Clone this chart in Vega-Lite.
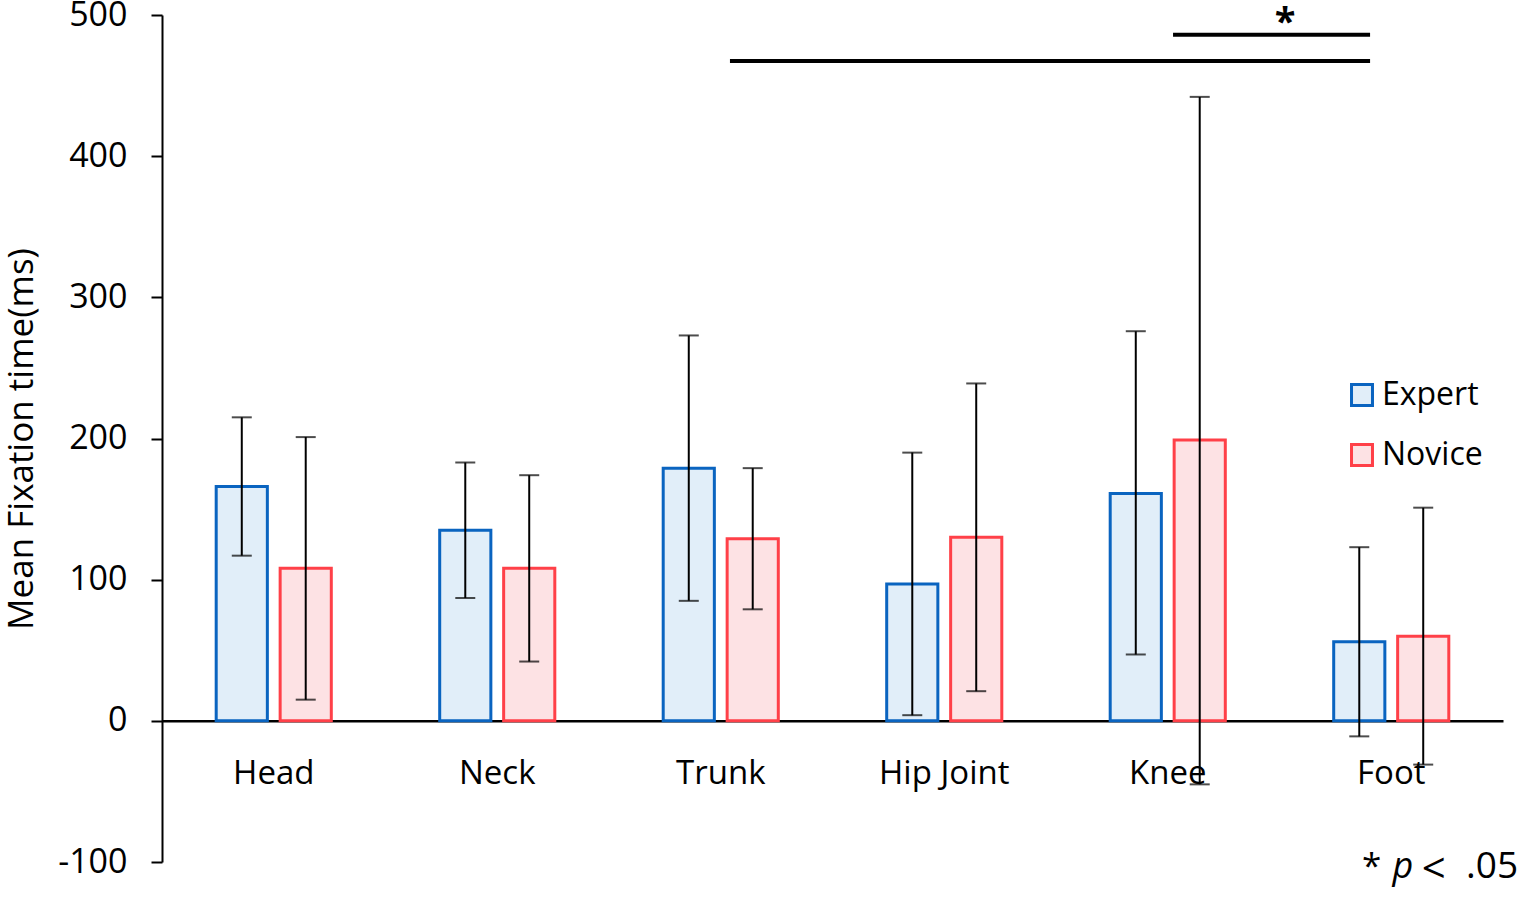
{
  "$schema": "https://vega.github.io/schema/vega-lite/v6.json",
  "width": 1341,
  "height": 847,
  "autosize": {"type": "none"},
  "padding": {"left": 162, "top": 15, "right": 22, "bottom": 38},
  "background": "white",
  "config": {
    "font": "Open Sans",
    "view": {"stroke": null},
    "axis": {"grid": false}
  },
  "datasets": {
    "bars": [
      {"region": "Head", "group": "Expert", "mean": 166, "lo": 117, "hi": 215},
      {"region": "Head", "group": "Novice", "mean": 108, "lo": 15, "hi": 201},
      {"region": "Neck", "group": "Expert", "mean": 135, "lo": 87, "hi": 183},
      {"region": "Neck", "group": "Novice", "mean": 108, "lo": 42, "hi": 174},
      {"region": "Trunk", "group": "Expert", "mean": 179, "lo": 85, "hi": 273},
      {"region": "Trunk", "group": "Novice", "mean": 129, "lo": 79, "hi": 179},
      {"region": "Hip Joint", "group": "Expert", "mean": 97, "lo": 4, "hi": 190},
      {"region": "Hip Joint", "group": "Novice", "mean": 130, "lo": 21, "hi": 239},
      {"region": "Knee", "group": "Expert", "mean": 161, "lo": 47, "hi": 276},
      {"region": "Knee", "group": "Novice", "mean": 199, "lo": -45, "hi": 442},
      {"region": "Foot", "group": "Expert", "mean": 56, "lo": -11, "hi": 123},
      {"region": "Foot", "group": "Novice", "mean": 60, "lo": -31, "hi": 151}
    ]
  },
  "layer": [
    {
      "data": {"name": "bars"},
      "mark": {"type": "bar", "strokeWidth": 3},
      "encoding": {
        "x": {
          "field": "region", "type": "nominal", "sort": null,
          "scale": {"domain": ["Head", "Neck", "Trunk", "Hip Joint", "Knee", "Foot"], "paddingInner": 0.485, "paddingOuter": 0.2425},
          "axis": {
            "title": null, "orient": "bottom", "offset": -141.2, "labelAngle": 0,
            "ticks": false, "domainColor": "black", "domainWidth": 2.5,
            "labelFontSize": 33, "labelColor": "black", "labelPadding": 37
          }
        },
        "xOffset": {
          "field": "group", "type": "nominal",
          "scale": {"domain": ["Expert", "Novice"], "paddingInner": 0.2, "paddingOuter": 0}
        },
        "y": {
          "field": "mean", "type": "quantitative",
          "scale": {"domain": [-100, 500], "nice": false, "zero": false},
          "axis": {
            "title": "Mean Fixation time(ms)", "values": [-100, 0, 100, 200, 300, 400, 500],
            "labelExpr": "datum.value",
            "titleFontSize": 35, "titleFontWeight": "normal", "titleColor": "black", "titlePadding": 18,
            "labelFontSize": 34, "labelColor": "black", "labelPadding": 24,
            "tickSize": 11, "tickColor": "black", "tickWidth": 2,
            "domainColor": "black", "domainWidth": 2
          }
        },
        "y2": {"datum": 0},
        "fill": {
          "field": "group", "type": "nominal",
          "scale": {"domain": ["Expert", "Novice"], "range": ["#e1eef9", "#fde2e4"]},
          "legend": {
            "title": null, "orient": "none", "legendX": 1184, "legendY": 364,
            "symbolType": "square", "symbolSize": 440, "symbolStrokeWidth": 3,
            "labelFontSize": 32, "labelColor": "black", "rowPadding": 26, "labelOffset": 4
          }
        },
        "stroke": {
          "field": "group", "type": "nominal",
          "scale": {"domain": ["Expert", "Novice"], "range": ["#0a64c0", "#ff4048"]},
          "legend": {
            "title": null, "orient": "none", "legendX": 1184, "legendY": 364,
            "symbolType": "square", "symbolSize": 440, "symbolStrokeWidth": 3,
            "labelFontSize": 32, "labelColor": "black", "rowPadding": 26, "labelOffset": 4
          }
        }
      }
    },
    {
      "data": {"name": "bars"},
      "mark": {"type": "rule", "color": "black", "strokeWidth": 2},
      "encoding": {
        "x": {"field": "region", "type": "nominal", "sort": null},
        "xOffset": {"field": "group", "type": "nominal"},
        "y": {"field": "lo", "type": "quantitative"},
        "y2": {"field": "hi"}
      }
    },
    {
      "data": {"name": "bars"},
      "mark": {"type": "tick", "color": "black", "thickness": 2, "size": 20},
      "encoding": {
        "x": {"field": "region", "type": "nominal", "sort": null},
        "xOffset": {"field": "group", "type": "nominal"},
        "y": {"field": "lo", "type": "quantitative"}
      }
    },
    {
      "data": {"name": "bars"},
      "mark": {"type": "tick", "color": "black", "thickness": 2, "size": 20},
      "encoding": {
        "x": {"field": "region", "type": "nominal", "sort": null},
        "xOffset": {"field": "group", "type": "nominal"},
        "y": {"field": "hi", "type": "quantitative"}
      }
    },
    {
      "data": {"values": [{"from": "Trunk", "to": "Foot", "level": 467.5}]},
      "mark": {"type": "rule", "color": "black", "strokeWidth": 4},
      "encoding": {
        "x": {"field": "from", "type": "nominal", "sort": null, "bandPosition": 0.58},
        "x2": {"field": "to", "bandPosition": 0.316},
        "y": {"field": "level", "type": "quantitative"}
      }
    },
    {
      "data": {"values": [{"from": "Knee", "to": "Foot", "level": 486}]},
      "mark": {"type": "rule", "color": "black", "strokeWidth": 4},
      "encoding": {
        "x": {"field": "from", "type": "nominal", "sort": null, "bandPosition": 0.546},
        "x2": {"field": "to", "bandPosition": 0.316},
        "y": {"field": "level", "type": "quantitative"}
      }
    },
    {
      "data": {"values": [{"region": "Knee", "level": 485.5, "label": "*"}]},
      "mark": {"type": "text", "fontSize": 38, "fontWeight": "bold", "color": "black", "align": "center", "baseline": "alphabetic"},
      "encoding": {
        "x": {"field": "region", "type": "nominal", "sort": null, "bandPosition": 1.52},
        "y": {"field": "level", "type": "quantitative"},
        "text": {"field": "label"}
      }
    },
    {
      "data": {"values": [{"region": "Foot", "level": -111, "label": "*"}]},
      "mark": {"type": "text", "fontSize": 35, "color": "black", "align": "left", "baseline": "alphabetic"},
      "encoding": {
        "x": {"field": "region", "type": "nominal", "sort": null, "bandPosition": 0.245},
        "y": {"field": "level", "type": "quantitative"},
        "text": {"field": "label"}
      }
    },
    {
      "data": {"values": [{"region": "Foot", "level": -111, "label": "p"}]},
      "mark": {"type": "text", "fontSize": 36, "fontStyle": "italic", "color": "black", "align": "left", "baseline": "alphabetic"},
      "encoding": {
        "x": {"field": "region", "type": "nominal", "sort": null, "bandPosition": 0.51},
        "y": {"field": "level", "type": "quantitative"},
        "text": {"field": "label"}
      }
    },
    {
      "data": {"values": [{"region": "Foot", "level": -115, "label": "<"}]},
      "mark": {"type": "text", "fontSize": 42, "color": "black", "align": "left", "baseline": "alphabetic"},
      "encoding": {
        "x": {"field": "region", "type": "nominal", "sort": null, "bandPosition": 0.765},
        "y": {"field": "level", "type": "quantitative"},
        "text": {"field": "label"}
      }
    },
    {
      "data": {"values": [{"region": "Foot", "level": -111, "label": ".05"}]},
      "mark": {"type": "text", "fontSize": 37, "color": "black", "align": "left", "baseline": "alphabetic"},
      "encoding": {
        "x": {"field": "region", "type": "nominal", "sort": null, "bandPosition": 1.15},
        "y": {"field": "level", "type": "quantitative"},
        "text": {"field": "label"}
      }
    }
  ]
}
